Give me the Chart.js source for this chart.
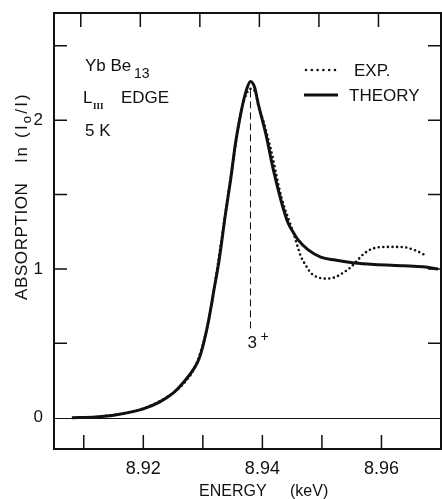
<!DOCTYPE html>
<html><head><meta charset="utf-8">
<script src="https://cdn.jsdelivr.net/npm/chart.js@4/dist/chart.umd.min.js"></script>
<style>html,body{margin:0;padding:0;background:#fff}#c{display:block}</style>
</head><body>
<canvas id="c" width="442" height="499"></canvas>
<script>
// ---- data ----
const theoryEnergy = [8.908, 8.912, 8.9155, 8.920, 8.9227, 8.925, 8.9268, 8.9285, 8.9293, 8.930, 8.931, 8.932, 8.9327, 8.9338, 8.9347, 8.9355, 8.9365, 8.9373, 8.938, 8.9387, 8.9393, 8.9400, 8.9407, 8.9415, 8.942, 8.9432, 8.9443, 8.9452, 8.946, 8.9477, 8.9498, 8.9522, 8.9555, 8.9588, 8.9638, 8.967, 8.9695];
const theoryAbs    = [0.00, 0.005, 0.02, 0.06, 0.105, 0.165, 0.24, 0.33, 0.39, 0.48, 0.66, 0.89, 1.05, 1.37, 1.61, 1.85, 2.07, 2.20, 2.26, 2.22, 2.11, 2.00, 1.886, 1.73, 1.64, 1.45, 1.31, 1.245, 1.195, 1.128, 1.08, 1.06, 1.04, 1.03, 1.022, 1.015, 1.00];
const expEnergy = [8.913, 8.916, 8.920, 8.924, 8.927, 8.929, 8.931, 8.933, 8.935, 8.9365, 8.9375, 8.938, 8.9388, 8.9393, 8.9402, 8.941, 8.9418, 8.9423, 8.9432, 8.9447, 8.9453, 8.946, 8.9465, 8.9472, 8.948, 8.9488, 8.9498, 8.951, 8.9523, 8.9538, 8.9548, 8.956, 8.9572, 8.9588, 8.961, 8.9632, 8.9655, 8.9673];
const expAbs    = [0.01, 0.025, 0.062, 0.14, 0.24, 0.37, 0.66, 1.16, 1.70, 2.07, 2.19, 2.21, 2.19, 2.10, 1.99, 1.87, 1.74, 1.64, 1.48, 1.30, 1.23, 1.14, 1.08, 1.03, 0.98, 0.953, 0.938, 0.935, 0.946, 0.98, 1.01, 1.06, 1.107, 1.14, 1.148, 1.148, 1.128, 1.094];
const markerEnergy = [8.938, 8.938];
const markerAbs    = [2.20, 0.60];
const xTickValues = [8.91, 8.92, 8.93, 8.94, 8.95, 8.96];
const xTickLabels = ['', '8.92', '', '8.94', '', '8.96'];
const yTickValues = [0, 0.5, 1, 1.5, 2, 2.5];
const yTickLabels = ['0', '', '1', '', '2', ''];
const xRange = [8.905, 8.97];
const yRange = [-0.21, 2.72];

const INK = '#111';
const FONT = 'Liberation Sans, Arial, sans-serif';
const pts = (xs, ys) => xs.map((x, i) => ({x, y: ys[i]}));
const labelFor = (vals, labels, v) => { const i = vals.findIndex(t => Math.abs(t - v) < 1e-9); return i < 0 ? '' : labels[i]; };

const decor = {
  id: 'decor',
  beforeDatasetsDraw(chart) {
    const {ctx, chartArea: a, scales: {y}} = chart;
    ctx.save();
    ctx.strokeStyle = INK; ctx.lineWidth = 1;
    const y0 = Math.round(y.getPixelForValue(0)) + 0.5;
    ctx.beginPath(); ctx.moveTo(a.left, y0); ctx.lineTo(a.right, y0); ctx.stroke();
    ctx.restore();
  },
  afterDatasetsDraw(chart) {
    const {ctx, chartArea: a, scales: {x, y}} = chart;
    ctx.save();
    ctx.strokeStyle = INK; ctx.fillStyle = INK;
    // frame
    ctx.lineWidth = 2;
    ctx.strokeRect(a.left, a.top, a.right - a.left, a.bottom - a.top);
    // inside ticks
    ctx.lineWidth = 1.5;
    ctx.beginPath();
    xTickValues.forEach(v => {
      const px = x.getPixelForValue(v);
      ctx.moveTo(px, a.bottom); ctx.lineTo(px, a.bottom - 14);
      ctx.moveTo(px - 3, a.top); ctx.lineTo(px - 3, a.top + 14);
    });
    yTickValues.forEach(v => {
      if (v === 0) return;
      const py = y.getPixelForValue(v);
      ctx.moveTo(a.left, py); ctx.lineTo(a.left + 13, py);
      ctx.moveTo(a.right, py); ctx.lineTo(a.right - 13, py);
    });
    ctx.stroke();

    // annotations
    ctx.textBaseline = 'alphabetic'; ctx.textAlign = 'left';
    ctx.font = '17px ' + FONT;
    ctx.fillText('Yb Be', 85, 71);
    ctx.font = '14px ' + FONT;
    ctx.fillText('13', 134, 78);
    ctx.font = '17px ' + FONT;
    ctx.fillText('L', 83, 103);
    ctx.fillText('EDGE', 121, 103);
    ctx.font = 'bold 9px Liberation Serif, serif';
    ctx.fillText('III', 93, 109);
    ctx.font = '17px ' + FONT;
    ctx.fillText('5 K', 85, 136);

    // legend
    ctx.fillText('EXP.', 354, 76);
    ctx.fillText('THEORY', 349, 101);
    ctx.lineCap = 'round';
    ctx.lineWidth = 2.6; ctx.setLineDash([0, 5.8]);
    ctx.beginPath(); ctx.moveTo(306, 70); ctx.lineTo(338, 70); ctx.stroke();
    ctx.setLineDash([]); ctx.lineCap = 'butt'; ctx.lineWidth = 3;
    ctx.beginPath(); ctx.moveTo(304, 95); ctx.lineTo(338, 95); ctx.stroke();

    // 3+ label under the dashed marker
    const mx = x.getPixelForValue(markerEnergy[0]);
    ctx.font = '17px ' + FONT;
    ctx.fillText('3', mx - 3, 348);
    ctx.font = '14px ' + FONT;
    ctx.fillText('+', mx + 10, 341);

    // x title
    ctx.font = '16px ' + FONT;
    ctx.fillText('ENERGY', 199, 496);
    ctx.fillText('(keV)', 290, 496);

    // y title (rotated)
    ctx.translate(27, 300);
    ctx.rotate(-Math.PI / 2);
    ctx.font = '17px ' + FONT;
    ctx.letterSpacing = '0.6px';
    ctx.fillText('ABSORPTION', 0, 0);
    let cx = ctx.measureText('ABSORPTION').width + 20;
    ctx.letterSpacing = '2.2px';
    const parts = [['ln (I', '17px ', 0], ['o', '13px ', 4], ['/I)', '17px ', 0]];
    parts.forEach(([t, f, dy]) => { ctx.font = f + FONT; ctx.fillText(t, cx, dy); cx += ctx.measureText(t).width; });
    ctx.restore();
  }
};

new Chart(document.getElementById('c'), {
  type: 'line',
  data: {
    datasets: [
      { label: 'THEORY', data: pts(theoryEnergy, theoryAbs), borderColor: INK, borderWidth: 3, pointRadius: 0, cubicInterpolationMode: 'monotone', fill: false },
      { label: 'EXP.', data: pts(expEnergy, expAbs), borderColor: INK, borderWidth: 2.6, borderDash: [0, 4.6], borderCapStyle: 'round', pointRadius: 0, cubicInterpolationMode: 'monotone', fill: false },
      { label: 'marker', data: pts(markerEnergy, markerAbs), borderColor: INK, borderWidth: 1, borderDash: [7, 4], pointRadius: 0, fill: false }
    ]
  },
  options: {
    responsive: false, animation: false, devicePixelRatio: 1,
    layout: { padding: { left: 0, top: 13, right: 1, bottom: 0 } },
    plugins: { legend: { display: false }, tooltip: { enabled: false } },
    scales: {
      x: {
        type: 'linear', min: xRange[0], max: xRange[1],
        grid: { display: false, drawTicks: false }, border: { display: false },
        afterBuildTicks: s => { s.ticks = xTickValues.map(v => ({ value: v })); },
        afterFit: s => { s.height = 50; s.paddingLeft = 0; s.paddingRight = 0; },
        ticks: { autoSkip: false, maxRotation: 0, padding: 9, color: INK, font: { family: FONT, size: 18 },
                 callback: v => labelFor(xTickValues, xTickLabels, v) }
      },
      y: {
        type: 'linear', min: yRange[0], max: yRange[1],
        grid: { display: false, drawTicks: false }, border: { display: false },
        afterBuildTicks: s => { s.ticks = yTickValues.map(v => ({ value: v })); },
        afterFit: s => { s.width = 54; s.paddingTop = 0; s.paddingBottom = 0; },
        ticks: { autoSkip: false, padding: 11, color: INK, font: { family: FONT, size: 17 },
                 callback: v => labelFor(yTickValues, yTickLabels, v) }
      }
    }
  },
  plugins: [decor]
});
</script>
</body></html>
